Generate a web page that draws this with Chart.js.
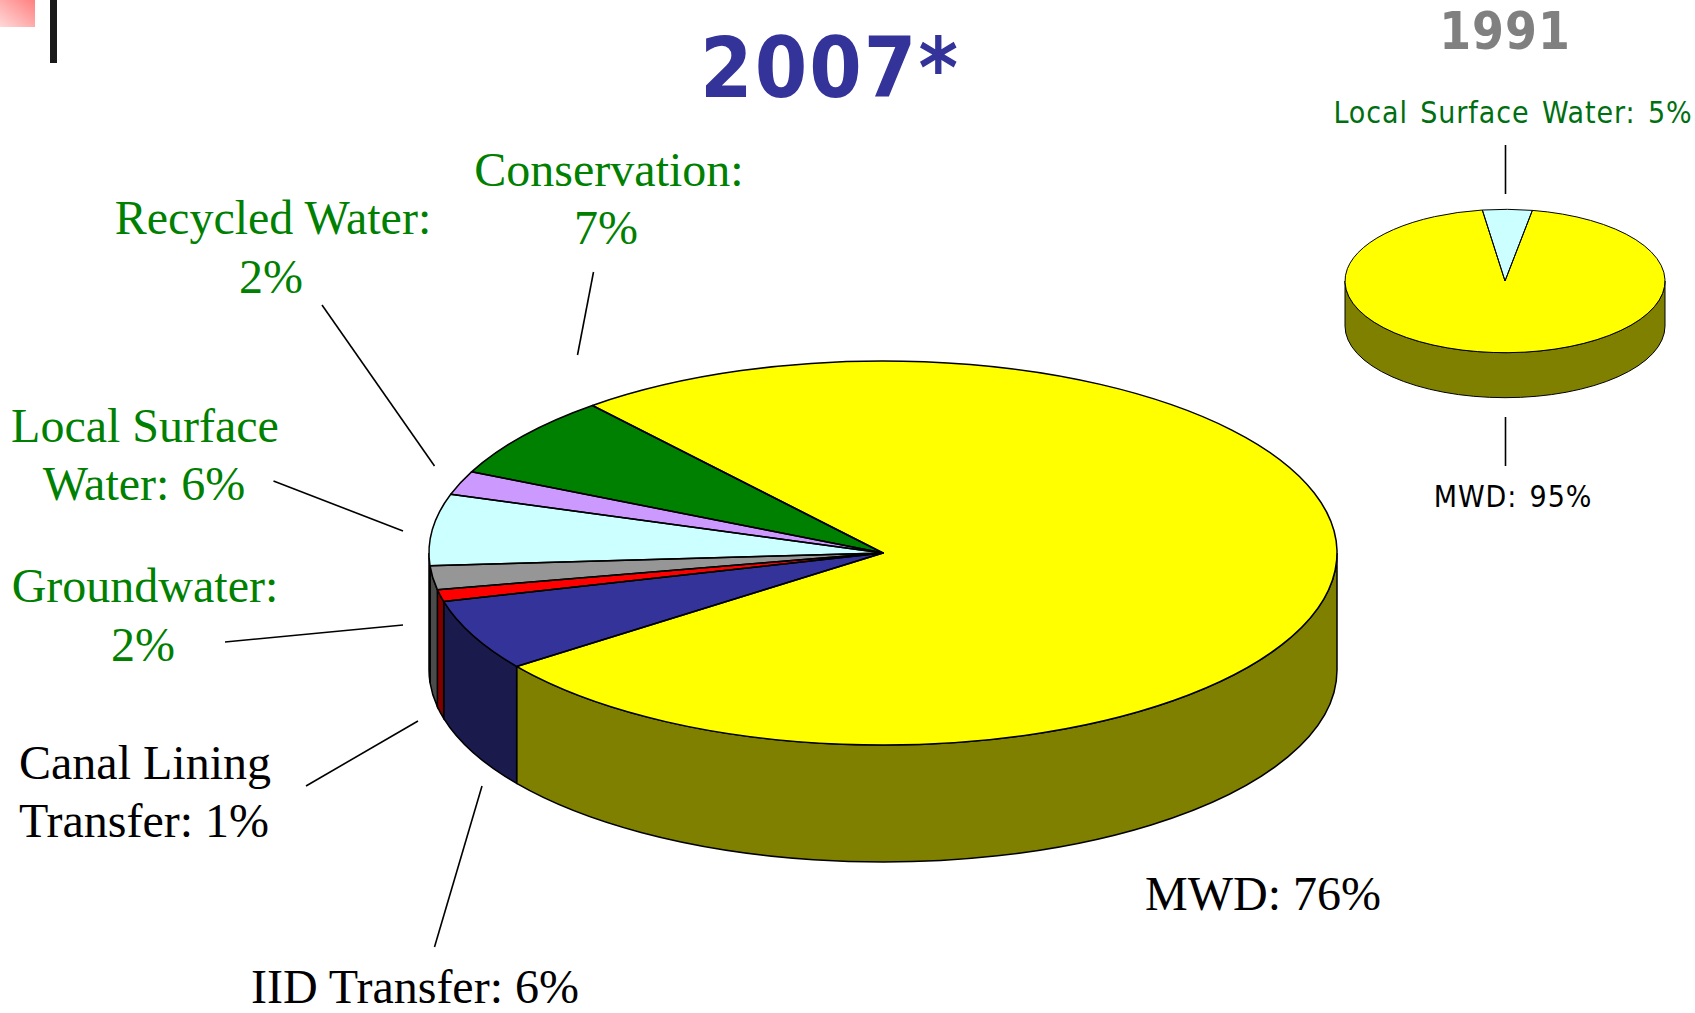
<!DOCTYPE html>
<html>
<head>
<meta charset="utf-8">
<title>2007 vs 1991</title>
<script src="https://cdn.jsdelivr.net/npm/chart.js@4"></script>
<style>
  html, body { margin: 0; padding: 0; background: #fff; overflow: hidden; }
  body { position: relative; width: 1695px; height: 1013px; }
  canvas { position: absolute; }
  #notas { position: absolute; left: 0; top: 0; }
  .big { font-family: "Liberation Serif", serif; font-size: 48px; }
  .small { font-family: "DejaVu Sans Condensed", "DejaVu Sans", sans-serif; font-size: 30px; letter-spacing: 0.9px; word-spacing: 3px; }
</style>
</head>
<body>
<svg id="notas" width="1695" height="1013"></svg>
<canvas id="pie2007"></canvas>
<canvas id="pie1991"></canvas>
<script>
// Datos 2007
const categories2007 = ['MWD', 'IID Transfer', 'Canal Lining Transfer', 'Groundwater', 'Local Surface Water', 'Recycled Water', 'Conservation'];
const values2007 = [76, 6, 1, 2, 6, 2, 7];
const topColors2007 = ['#ffff00', '#333399', '#ff0000', '#969696', '#ccffff', '#cc99ff', '#008000'];
const wallColors2007 = ['#808000', '#1a1a4d', '#800000', '#4b4b4b', '#668080', '#664d80', '#004000'];

// Datos 1991
const categories1991 = ['MWD', 'Local Surface Water'];
const values1991 = [95, 5];
const topColors1991 = ['#ffff00', '#ccffff'];
const wallColors1991 = ['#808000', '#668080'];

// Textos
const GREEN = '#008000';
const labels = [
  ['Conservation:', 609, 186, 'big', GREEN],
  ['7%', 606, 244, 'big', GREEN],
  ['Recycled Water:', 273, 234, 'big', GREEN],
  ['2%', 271, 293, 'big', GREEN],
  ['Local Surface', 145, 442, 'big', GREEN],
  ['Water: 6%', 144, 500, 'big', GREEN],
  ['Groundwater:', 145, 602, 'big', GREEN],
  ['2%', 143, 661, 'big', GREEN],
  ['Canal Lining', 145, 779, 'big', '#000'],
  ['Transfer: 1%', 144, 837, 'big', '#000'],
  ['IID Transfer: 6%', 415, 1003, 'big', '#000'],
  ['MWD: 76%', 1263, 910, 'big', '#000'],
  ['Local Surface Water: 5%', 1513, 123, 'small', '#006f11'],
  ['MWD: 95%', 1513, 507, 'small', '#000']
];

// Lineas guia
const leaders = [
  [593.5, 272, 577.5, 355],
  [322, 305, 434.5, 466],
  [273.5, 481, 403, 531],
  [225, 642, 403, 625],
  [306, 786, 418, 721],
  [434.5, 947, 482, 786],
  [1505.5, 145, 1505.5, 194],
  [1505.5, 417, 1505.5, 466]
];

// Función para crear elementos SVG
function svgEl(name, attrs, text) {
  const el = document.createElementNS('http://www.w3.org/2000/svg', name);
  Object.keys(attrs).forEach(k => el.setAttribute(k, attrs[k]));
  if (text) el.textContent = text;
  document.getElementById('notas').appendChild(el);
  return el;
}

// Cuadro rosa y barra negra de la plantilla
const defs = svgEl('defs', {});
defs.innerHTML = '<linearGradient id="rosa" x1="1" y1="0" x2="0" y2="1">' +
  '<stop offset="0" stop-color="#ff8080"/><stop offset="1" stop-color="#ffd8d8"/></linearGradient>';
svgEl('rect', { x: 0, y: 0, width: 35, height: 27, fill: 'url(#rosa)' });
svgEl('rect', { x: 50, y: 0, width: 7, height: 63, fill: '#1a1a1a' });

// Titulos
svgEl('text', {
  x: 830, y: 97, 'text-anchor': 'middle', fill: '#333399',
  style: 'font: bold 84px "DejaVu Sans Condensed", "DejaVu Sans", sans-serif; letter-spacing: 2px'
}, '2007*');
svgEl('text', {
  x: 1505, y: 49, 'text-anchor': 'middle', fill: '#808080',
  style: 'font: bold 51px "DejaVu Sans Condensed", "DejaVu Sans", sans-serif; letter-spacing: 1px'
}, '1991');

labels.forEach(([text, x, y, cls, color]) => {
  svgEl('text', { x: x, y: y, 'text-anchor': 'middle', fill: color, class: cls }, text);
});
leaders.forEach(([x1, y1, x2, y2]) => {
  svgEl('line', { x1: x1, y1: y1, x2: x2, y2: y2, stroke: '#000', 'stroke-width': 1.6 });
});

// Plugin para aplastar el pastel y dibujar la pared lateral
const pie3d = {
  id: 'pie3d',
  beforeDatasetsDraw(chart, args, opts) {
    const ctx = chart.ctx;
    const arcs = chart.getDatasetMeta(0).data;
    ctx.save();
    ctx.lineWidth = opts.lineWidth;
    ctx.strokeStyle = '#000';
    arcs.forEach((arc, i) => {
      const ry = arc.outerRadius * opts.squash;
      // solo la mitad delantera (0 a PI) tiene pared visible
      for (let k = -1; k <= 1; k++) {
        const a0 = Math.max(arc.startAngle + k * 2 * Math.PI, 0);
        const a1 = Math.min(arc.endAngle + k * 2 * Math.PI, Math.PI);
        if (a1 <= a0) continue;
        ctx.beginPath();
        ctx.ellipse(arc.x, arc.y, arc.outerRadius, ry, 0, a0, a1);
        ctx.ellipse(arc.x, arc.y + opts.depth, arc.outerRadius, ry, 0, a1, a0, true);
        ctx.closePath();
        ctx.fillStyle = opts.wallColors[i];
        ctx.fill();
        ctx.stroke();
      }
    });
    ctx.restore();

    const first = arcs[0];
    ctx.save();
    ctx.translate(first.x, first.y);
    ctx.scale(1, opts.squash);
    ctx.translate(-first.x, -first.y);
  },
  afterDatasetsDraw(chart, args, opts) {
    const ctx = chart.ctx;
    ctx.restore();
    ctx.save();
    ctx.lineWidth = opts.lineWidth;
    ctx.strokeStyle = '#000';
    ctx.lineJoin = 'round';
    chart.getDatasetMeta(0).data.forEach(arc => {
      ctx.beginPath();
      ctx.moveTo(arc.x, arc.y);
      ctx.ellipse(arc.x, arc.y, arc.outerRadius, arc.outerRadius * opts.squash, 0, arc.startAngle, arc.endAngle);
      ctx.closePath();
      ctx.stroke();
    });
    ctx.restore();
  }
};

// Función para crear cada pastel
function makePie(id, cx, cy, radius, rotation, categories, values, colors, pieOpts) {
  const canvas = document.getElementById(id);
  const size = 2 * radius + 20;
  canvas.width = size;
  canvas.height = size;
  canvas.style.left = (cx - size / 2) + 'px';
  canvas.style.top = (cy - size / 2) + 'px';
  return new Chart(canvas.getContext('2d'), {
    type: 'pie',
    data: {
      labels: categories,
      datasets: [{
        data: values,
        backgroundColor: colors,
        borderWidth: 0,
        clip: false
      }]
    },
    options: {
      responsive: false,
      animation: false,
      radius: radius,
      rotation: rotation,
      plugins: {
        legend: { display: false },
        tooltip: { enabled: false },
        pie3d: pieOpts
      }
    },
    plugins: [pie3d]
  });
}

makePie('pie2007', 883, 553, 454, 320.2, categories2007, values2007, topColors2007,
  { squash: 0.423, depth: 117, wallColors: wallColors2007, lineWidth: 1.5 });
makePie('pie1991', 1505, 281, 160, 9.85, categories1991, values1991, topColors1991,
  { squash: 0.448, depth: 45, wallColors: wallColors1991, lineWidth: 1 });
</script>
</body>
</html>
